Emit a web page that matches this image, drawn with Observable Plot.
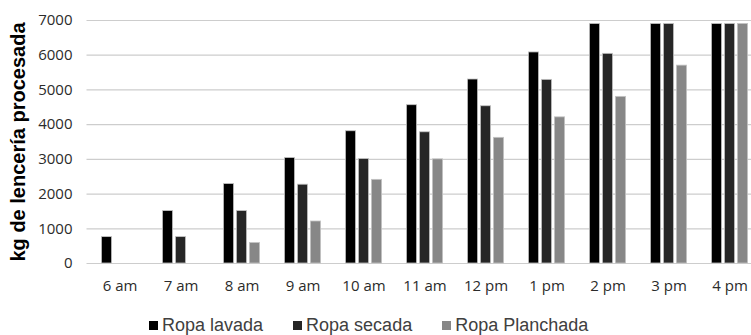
<!DOCTYPE html>
<html>
<head>
<meta charset="utf-8">
<script src="https://cdn.jsdelivr.net/npm/d3@7"></script>
<script src="https://cdn.jsdelivr.net/npm/@observablehq/plot@0.6"></script>
<style>
  html, body { margin: 0; padding: 0; background: #fff; }
  #chart { width: 751px; height: 335px; overflow: hidden; position: relative; }
  .legend { display: flex; align-items: center; height: 35px; margin-top: 8px; margin-left: 149px;
            font-family: "Liberation Sans", Arial, sans-serif; font-size: 18px; color: #404040; }
  .legend .item { display: flex; align-items: center; margin-right: 30px; }
  .legend .sw { width: 9px; height: 9px; margin-right: 4px; }
</style>
</head>
<body>
<div id="chart"></div>
<script>
// Hourly cumulative kg of linen processed, by stage
const hours = ["6 am", "7 am", "8 am", "9 am", "10 am", "11 am", "12 pm", "1 pm", "2 pm", "3 pm", "4 pm"];
const ropaLavada     = [760, 1510, 2290, 3040, 3810, 4560, 5300, 6080, 6900, 6900, 6900];
const ropaSecada     = [0, 760, 1510, 2270, 3010, 3780, 4530, 5290, 6040, 6900, 6900];
const ropaPlanchada  = [0, 0, 590, 1210, 2410, 3000, 3620, 4210, 4800, 5700, 6900];
const seriesNames = ["Ropa lavada", "Ropa secada", "Ropa Planchada"];
const yTicks = [0, 1000, 2000, 3000, 4000, 5000, 6000, 7000];
const yTitle = "kg de lencería procesada";

const seriesValues = [ropaLavada, ropaSecada, ropaPlanchada];
const seriesColors = ["#000000", "#262626", "#878787"];

const rows = seriesNames.flatMap((name, k) =>
  hours.map((hour, i) => ({hour, series: name, value: seriesValues[k][i]}))
);

// one barY per series, shifted within each hour band
const barStep = 13;
const barMarks = seriesNames.map((name, k) =>
  Plot.barY(rows.filter(d => d.series === name), {
    x: "hour",
    y: "value",
    fill: "series",
    stroke: "#c4c4c4",
    strokeWidth: 0.8,
    insetLeft: 25.4,
    insetRight: 25.4,
    dx: (k - 1) * barStep
  })
);

const chart = Plot.plot({
  width: 751,
  height: 300,
  marginTop: 20,
  marginBottom: 37,
  marginLeft: 86.5,
  marginRight: 0,
  style: {fontFamily: "'Open Sans', sans-serif", color: "#333", background: "#fff"},
  x: {type: "band", domain: hours, range: [86.5, 763], padding: 0},
  y: {domain: [0, 7000]},
  color: {domain: seriesNames, range: seriesColors},
  marks: [
    Plot.gridY(yTicks, {stroke: "#cdcdcd", strokeOpacity: 1, strokeWidth: 1.2}),
    Plot.axisY(yTicks, {tickSize: 0, tickPadding: 14.5, fontSize: 15, label: null, tickFormat: d => String(d), fill: "#2b2b2b"}),
    Plot.axisX({tickSize: 0, tickPadding: 17, fontSize: 15, label: null, fill: "#2b2b2b"}),
    ...barMarks,
    // rotated axis title
    Plot.axisY([], {
      label: yTitle,
      labelAnchor: "center",
      labelArrow: "none",
      labelOffset: 76,
      tickSize: 0,
      fontSize: 20,
      fontWeight: "bold",
      fontFamily: "'Liberation Sans', Arial, sans-serif",
      fill: "#000"
    })
  ]
});

const root = document.getElementById("chart");
root.appendChild(chart);

// legend below the plot
const legend = document.createElement("div");
legend.className = "legend";
seriesNames.forEach((name, k) => {
  const item = document.createElement("div");
  item.className = "item";
  const sw = document.createElement("span");
  sw.className = "sw";
  sw.style.background = seriesColors[k];
  const label = document.createElement("span");
  label.textContent = name;
  item.appendChild(sw);
  item.appendChild(label);
  legend.appendChild(item);
});
root.appendChild(legend);
</script>
</body>
</html>
